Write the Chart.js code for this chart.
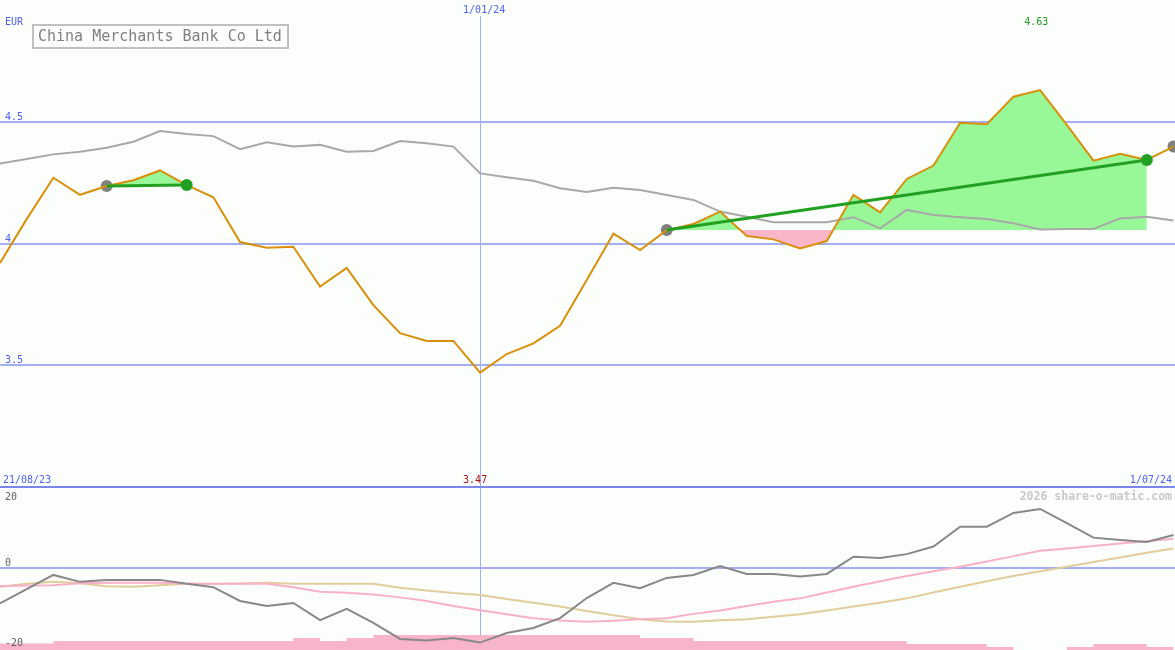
<!DOCTYPE html>
<html>
<head>
<meta charset="utf-8">
<script src="https://cdn.jsdelivr.net/npm/chart.js@4/dist/chart.umd.min.js"></script>
<style>
  html, body { margin: 0; padding: 0; background: #fbfefb; }
  #wrap { position: relative; width: 1175px; height: 650px; overflow: hidden; background: #fbfefb; }
  #top { position: absolute; left: 0; top: 0; }
  #bottom { position: absolute; left: 0; top: 488px; }
  #axisline { position: absolute; left: 0; top: 486px; width: 1175px; height: 2px; background: #7a86ea; }
</style>
</head>
<body>
<div id="wrap">
  <canvas id="top" width="1175" height="487"></canvas>
  <div id="axisline"></div>
  <canvas id="bottom" width="1175" height="162"></canvas>
</div>
<script>
// weekly closes, index 0 = first week shown
const price = [3.92, 4.10, 4.27, 4.20, 4.236, 4.26, 4.30, 4.24, 4.19, 4.006, 3.983, 3.987, 3.823, 3.90, 3.747,
  3.632, 3.60, 3.60, 3.47, 3.546, 3.59, 3.662, 3.85, 4.04, 3.973, 4.055, 4.08, 4.131, 4.031, 4.017,
  3.98, 4.01, 4.20, 4.128, 4.265, 4.32, 4.496, 4.49, 4.603, 4.63, 4.487, 4.34, 4.368, 4.343, 4.398];
const average = [4.329, 4.347, 4.366, 4.377, 4.393, 4.418, 4.462, 4.450, 4.441, 4.387, 4.416, 4.398, 4.405, 4.377, 4.380,
  4.421, 4.412, 4.398, 4.288, 4.272, 4.258, 4.227, 4.212, 4.229, 4.220, 4.199, 4.179, 4.131, 4.110, 4.087,
  4.087, 4.087, 4.108, 4.062, 4.138, 4.117, 4.108, 4.101, 4.083, 4.058, 4.060, 4.060, 4.103, 4.110, 4.094];
const momentum = [-10.7, -6.4, -2.1, -4.2, -3.6, -3.6, -3.6, -4.8, -5.8, -10.0, -11.5, -10.6, -15.8, -12.4, -16.6,
  -21.5, -22.0, -21.2, -22.6, -19.7, -18.2, -15.2, -9.1, -4.5, -6.1, -3.0, -2.1, 0.6, -1.8, -1.8,
  -2.6, -1.8, 3.4, 3.0, 4.2, 6.5, 12.5, 12.5, 16.7, 17.9, 13.6, 9.2, 8.5, 7.9, 10.0];
const momentumFast = [-5.5, -5.3, -5.2, -4.6, -4.5, -4.5, -4.5, -4.8, -4.8, -4.8, -4.8, -5.8, -7.2, -7.5, -8.0,
  -8.9, -10.0, -11.5, -12.8, -14.0, -15.2, -15.9, -16.3, -16.0, -15.5, -15.2, -13.9, -12.9, -11.5, -10.2,
  -9.2, -7.4, -5.7, -4.0, -2.4, -1.0, 0.4, 2.0, 3.6, 5.2, 5.9, 6.7, 7.4, 8.1, 8.9];
const momentumSlow = [-5.7, -4.8, -4.2, -4.6, -5.5, -5.7, -5.2, -4.8, -4.8, -4.7, -4.5, -4.8, -4.8, -4.8, -4.8,
  -6.0, -6.8, -7.6, -8.2, -9.4, -10.5, -11.7, -13.0, -14.3, -15.5, -16.2, -16.3, -15.8, -15.5, -14.8,
  -14.0, -12.9, -11.7, -10.5, -9.2, -7.4, -5.7, -4.0, -2.4, -1.0, 0.4, 1.8, 3.2, 4.6, 5.9];
const volume = [2.2, 2.2, 3, 3, 3, 3, 3, 3, 3, 3, 3, 4, 3, 4, 5, 5, 5, 5, 5, 5, 5, 5, 5, 5, 4, 4, 3, 3, 3, 3,
  3, 3, 3, 3, 2, 2, 2, 1, 0, 0, 1, 2, 2, 1, 1];

const entryIdx = [4, 25];
const exitIdx = [7, 43];
const openIdx = [44];
const priceTicks = [4.5, 4, 3.5];
const momentumTicks = [20, 0, -20];
const dateMarkIdx = 18;
const dateLabels = ["21/08/23", "1/01/24", "1/07/24"];

const XMAX = 1175 / (1173.5 / 44);
const mono = '"DejaVu Sans Mono", "Liberation Mono", monospace';

const pts = arr => arr.map((v, i) => ({ x: i, y: v }));
const only = (arr, from, to) => arr.map((v, i) => ({ x: i, y: (i >= from && i <= to) ? v : null }));

// trade fills
const tradeFills = entryIdx.map((e, k) => ({
  data: only(price, e, exitIdx[k]),
  borderWidth: 0, pointRadius: 0, spanGaps: false,
  fill: { target: { value: price[e] }, above: "#98f898", below: "#f8b6c8" },
  order: 10
}));
const tradeLines = entryIdx.map((e, k) => ({
  data: [{ x: e, y: price[e] }, { x: exitIdx[k], y: price[exitIdx[k]] }],
  borderColor: "#22a022", borderWidth: 3, pointRadius: 0, fill: false, order: 3
}));

const bluePlugin = {
  id: "decor",
  beforeDatasetsDraw(chart) {
    const { ctx, scales: { x, y } } = chart;
    ctx.save();
    ctx.strokeStyle = "#a4aef0";
    ctx.lineWidth = 2;
    const ticks = chart.canvas.id === "top" ? priceTicks : [0];
    ticks.forEach(t => {
      const py = Math.round(y.getPixelForValue(t));
      ctx.beginPath(); ctx.moveTo(0, py); ctx.lineTo(1175, py); ctx.stroke();
    });
    ctx.lineWidth = 1;
    const px = Math.round(x.getPixelForValue(dateMarkIdx)) + 0.5;
    ctx.beginPath();
    ctx.moveTo(px, chart.canvas.id === "top" ? 16 : 0);
    ctx.lineTo(px, chart.height);
    ctx.stroke();
    ctx.restore();
  }
};

const topText = {
  id: "topText",
  afterDraw(chart) {
    const { ctx, scales: { x, y } } = chart;
    ctx.save();
    ctx.font = "10px " + mono;
    ctx.fillStyle = "#5060f0";
    ctx.textAlign = "left";
    ctx.fillText("EUR", 5, 25);
    priceTicks.forEach(t => ctx.fillText(String(t), 5, y.getPixelForValue(t) - 2));
    const dx = x.getPixelForValue(dateMarkIdx);
    ctx.fillText(dateLabels[1], dx - 17, 13);
    ctx.fillText(dateLabels[0], 3, 483);
    ctx.textAlign = "right";
    ctx.fillText(dateLabels[2], 1172, 483);
    ctx.textAlign = "left";
    const hi = price.indexOf(Math.max(...price));
    const lo = price.indexOf(Math.min(...price));
    ctx.fillStyle = "#229922";
    ctx.fillText(Math.max(...price).toFixed(2), x.getPixelForValue(hi) - 16, 25);
    ctx.fillStyle = "#aa1111";
    ctx.fillText(Math.min(...price).toFixed(2), x.getPixelForValue(lo) - 17, 483);
    // title box
    ctx.fillStyle = "#fbfefb";
    ctx.fillRect(33, 25, 255, 23);
    ctx.strokeStyle = "#c0c0c0";
    ctx.lineWidth = 2;
    ctx.strokeRect(33, 25, 255, 23);
    ctx.font = "15px " + mono;
    ctx.fillStyle = "#808080";
    ctx.fillText("China Merchants Bank Co Ltd", 38, 41);
    ctx.restore();
  }
};

const bottomText = {
  id: "bottomText",
  afterDraw(chart) {
    const { ctx, scales: { y } } = chart;
    ctx.save();
    ctx.font = "10px " + mono;
    ctx.fillStyle = "#606060";
    ctx.fillText(String(momentumTicks[0]), 5, 12);
    ctx.fillText(String(momentumTicks[1]), 5, y.getPixelForValue(0) - 2);
    ctx.fillText(String(momentumTicks[2]), 5, 158);
    ctx.font = "bold 11.5px " + mono;
    ctx.fillStyle = "#c8c8c8";
    ctx.textAlign = "right";
    ctx.fillText("2026 share-o-matic.com", 1172, 12);
    ctx.restore();
  }
};

const baseOptions = (ymin, ymax) => ({
  responsive: false, animation: false, devicePixelRatio: 1,
  layout: { padding: 0, autoPadding: false },
  plugins: { legend: { display: false }, tooltip: { enabled: false } },
  elements: { line: { tension: 0 } },
  scales: {
    x: { type: "linear", display: false, min: 0, max: XMAX },
    y: { display: false, min: ymin, max: ymax }
  }
});

new Chart(document.getElementById("top"), {
  type: "line",
  data: {
    datasets: [
      ...tradeFills,
      { data: pts(average), borderColor: "#a8a8a8", borderWidth: 2, pointRadius: 0, fill: false, order: 8 },
      { data: entryIdx.concat(openIdx).map(i => ({ x: i, y: price[i] })), showLine: false,
        pointRadius: 6, pointBackgroundColor: "#808080", pointBorderWidth: 0, order: 7 },
      { data: pts(price), borderColor: "#d8900a", borderWidth: 2, pointRadius: 0, fill: false, order: 5 },
      ...tradeLines,
      { data: exitIdx.map(i => ({ x: i, y: price[i] })), showLine: false,
        pointRadius: 6, pointBackgroundColor: "#22a022", pointBorderWidth: 0, order: 2 }
    ]
  },
  options: baseOptions(3, 5),
  plugins: [bluePlugin, topText]
});

const bottomOpts = baseOptions(-82 / 3.3, 80 / 3.3);
bottomOpts.scales.v = { display: false, min: 0, max: 54 };

new Chart(document.getElementById("bottom"), {
  type: "line",
  data: {
    datasets: [
      { data: pts(volume), yAxisID: "v", stepped: "before", borderWidth: 0, pointRadius: 0,
        backgroundColor: "#f8b4c8", fill: "origin", order: 10 },
      { data: pts(momentumSlow), borderColor: "#e2cc9c", borderWidth: 2, pointRadius: 0, fill: false, order: 4 },
      { data: pts(momentumFast), borderColor: "#f8b0c8", borderWidth: 2, pointRadius: 0, fill: false, order: 3 },
      { data: pts(momentum), borderColor: "#888888", borderWidth: 2, pointRadius: 0, fill: false, order: 2 }
    ]
  },
  options: bottomOpts,
  plugins: [bluePlugin, bottomText]
});
</script>
</body>
</html>
